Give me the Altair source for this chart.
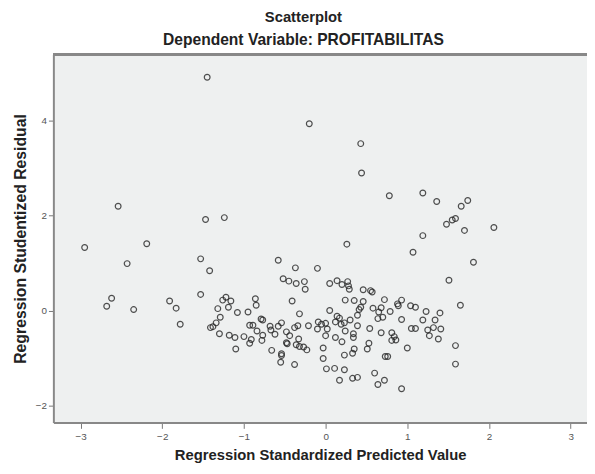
import altair as alt
import pandas as pd

# Regression standardized predicted value (x) and studentized residual (y)
pred = [
    -1.45, -2.54, -1.47, -1.24, -2.95, -2.19,
    -0.20, 0.43, 0.44, 0.78, 1.19, 1.36, 1.19, 0.26,
    1.66, 1.74, 1.48, 1.55, 1.59, 1.70, 2.06,
    1.81, 1.51, 1.65, 1.40, 1.34, 1.32, 1.41, 1.27, 1.38, 1.59, 1.59,
    -2.43, -1.53, -1.42, -2.62, -2.68, -2.35, -1.91, -1.83, -1.78, -1.53,
    -1.22, -1.26, -1.16, -1.32, -1.19, -1.08, -0.95, -1.29, -1.34, -1.38,
    -1.41, -1.30, -1.18, -1.11, -1.00, -1.10,
    1.07, -0.58, -0.37, -0.10, -0.52, -0.45, -0.36, -0.26, -0.25, 0.05,
    0.14, 0.20, 0.27, 0.28, 0.29, 0.46, 0.55, 0.57, -0.86, -0.85,
    -0.41, 0.24, 0.35, 0.46, 0.43, 0.41, 0.39, 0.72, 0.58, 0.68,
    0.65, 0.64, 0.70, 0.79, 0.88, 0.93, 0.89, 1.04, 1.10, 1.23,
    0.93, 1.19, 1.05, 1.10, 1.25, 1.00, 0.05, 0.14, 0.17, 0.19,
    0.23, 0.30, 0.39, 0.24, 0.34, 0.34, 0.20, 0.12, 0.54, 0.68,
    0.81, 0.84, 0.81, 0.86, 0.53, 0.51, 0.35, 0.33, 0.23, 0.73,
    0.76, 0.60, 0.72, 0.64, 0.93, 0.39, 0.33, 0.17, 0.23, 0.11,
    0.01, -0.03, -0.03, 0.00, 0.02, 0.00, -0.05, -0.10, -0.32, -0.21,
    -0.34, -0.38, -0.33, -0.36, -0.32, -0.27, -0.23, -0.48, -0.47, -0.44,
    -0.48, -0.54, -0.58, -0.62, -0.68, -0.67, -0.66, -0.54, -0.54, -0.55,
    -0.38, -0.79, -0.77, -0.89, -0.93, -0.84, -0.77, -0.78, -0.91, -0.93,
    -0.09, 0.12,
]
resid = [
    4.92, 2.20, 1.92, 1.96, 1.33, 1.41,
    3.94, 3.52, 2.90, 2.42, 2.48, 2.30, 1.58, 1.40,
    2.20, 2.32, 1.82, 1.91, 1.94, 1.69, 1.75,
    1.02, 0.64, 0.11, -0.05, -0.20, -0.36, -0.39, -0.53, -0.60, -0.74, -1.13,
    0.99, 1.09, 0.84, 0.26, 0.09, 0.02, 0.20, 0.05, -0.29, 0.34,
    0.28, 0.22, 0.20, 0.04, 0.07, -0.04, -0.03, -0.14, -0.26, -0.34,
    -0.36, -0.49, -0.52, -0.57, -0.55, -0.81,
    1.23, 1.06, 0.90, 0.89, 0.67, 0.62, 0.57, 0.61, 0.45, 0.57,
    0.63, 0.55, 0.61, 0.52, 0.45, 0.44, 0.42, 0.39, 0.25, 0.11,
    0.20, 0.22, 0.21, 0.19, 0.07, 0.02, -0.10, 0.23, 0.05, 0.06,
    -0.03, -0.17, -0.14, -0.02, 0.14, 0.22, 0.10, 0.10, 0.07, -0.02,
    -0.19, -0.20, -0.38, -0.38, -0.41, -0.79, 0.00, -0.12, -0.16, -0.29,
    -0.26, -0.20, -0.32, -0.43, -0.49, -0.57, -0.66, -0.57, -0.38, -0.47,
    -0.47, -0.55, -0.63, -0.62, -0.69, -0.81, -0.81, -0.90, -0.94, -0.97,
    -0.97, -1.32, -1.47, -1.56, -1.65, -1.41, -1.43, -1.47, -1.25, -1.22,
    -1.23, -1.01, -0.79, -0.53, -0.39, -0.27, -0.29, -0.39, -0.07, -0.32,
    -0.32, -0.36, -0.60, -0.72, -0.76, -0.77, -0.83, -0.68, -0.70, -0.53,
    -0.45, -0.26, -0.33, -0.50, -0.33, -0.41, -0.84, -0.91, -0.95, -1.09,
    -1.14, -0.18, -0.20, -0.31, -0.31, -0.43, -0.52, -0.63, -0.61, -0.69,
    -0.24, -0.24,
]

x_ticks = [-3, -2, -1, 0, 1, 2, 3]
y_ticks = [-2, 0, 2, 4]

df = pd.DataFrame({"pred": pred, "resid": resid})

W, H = 541, 373
FONT = "Liberation Sans"

points = alt.Chart(df).mark_point(
    shape="circle", filled=False, size=34, strokeWidth=1.2,
    color="#262626", opacity=0.8
).encode(
    x=alt.X("pred:Q",
            scale=alt.Scale(domain=[-3.333, 3.2], nice=False, zero=False),
            axis=alt.Axis(values=x_ticks, title="Regression Standardized Predicted Value",
                          titleY=33, titleBaseline="middle", titleFontSize=15,
                          titleFontWeight="bold", titleFont=FONT, titleColor="#222222",
                          labelFont=FONT, labelFontSize=10, labelColor="#555555",
                          labelPadding=3, tickSize=6, tickColor="#777777",
                          domainColor="#888888", domainWidth=2, grid=False)),
    y=alt.Y("resid:Q",
            scale=alt.Scale(domain=[-2.36, 5.40], nice=False, zero=False),
            axis=alt.Axis(values=y_ticks, title="Regression Studentized Residual",
                          titleX=-33, titleBaseline="middle", titleFontSize=16,
                          titleFontWeight="bold", titleFont=FONT, titleColor="#222222",
                          labelFont=FONT, labelFontSize=10, labelColor="#555555",
                          labelPadding=2, tickSize=5, tickColor="#777777",
                          domainColor="#888888", domainWidth=2, grid=False)),
)

top_line = alt.Chart(df).mark_rule(color="#888888", strokeWidth=2).encode(
    x=alt.value(0), x2=alt.value(W), y=alt.value(0)
)

chart = alt.layer(points, top_line).properties(
    width=W, height=H,
    title=alt.TitleParams(
        text="Scatterplot",
        subtitle="Dependent Variable: PROFITABILITAS",
        font=FONT, fontSize=15, fontWeight="bold", color="#222222",
        subtitleFont=FONT, subtitleFontSize=15.8, subtitleFontWeight="bold",
        subtitleColor="#222222", subtitlePadding=8,
        anchor="middle", dx=-17, offset=6,
    ),
    autosize=alt.AutoSizeParams(type="none"),
    padding={"left": 46, "top": 44, "right": 0, "bottom": 40},
    background="white",
).configure_view(fill="#EEF0F0", strokeWidth=0)

chart.save("out.html", embed_options={"renderer": "svg", "actions": False})
